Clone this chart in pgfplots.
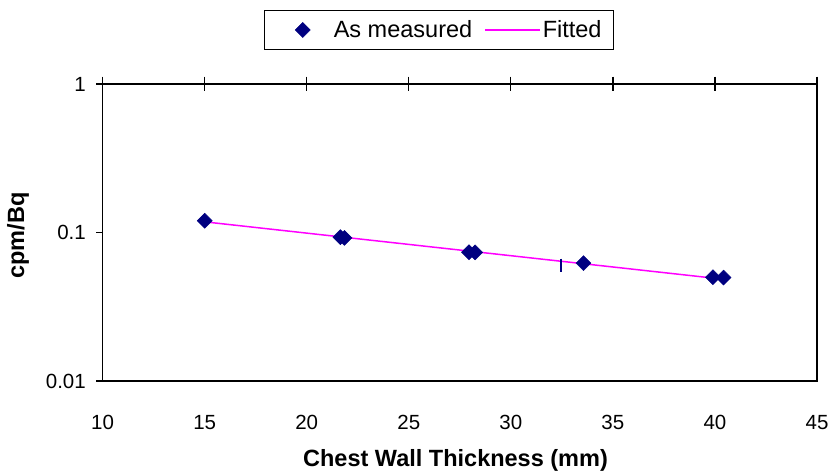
\documentclass[border=0pt]{standalone}
\usepackage{fontspec}
\setmainfont{Liberation Sans}
\usepackage{pgfplots}
\pgfplotsset{compat=1.18}
\definecolor{navy}{HTML}{000080}
\definecolor{fitmag}{HTML}{FF00FF}
\pgfplotsset{
  diamlegend/.style={legend image code/.code={\path (-19.5pt,0pt) (36.5pt,0pt);\draw[##1] plot coordinates {(8pt,0pt)};}},
  linelegend/.style={legend image code/.code={\draw[##1] (0pt,0pt) -- (55pt,0pt);}},
}
\begin{document}
\begin{tikzpicture}
\useasboundingbox (-102.6pt,-94pt) rectangle (726.4pt,381pt);
\begin{axis}[
  at={(0pt,0pt)}, anchor=south west,
  scale only axis, width=714.4pt, height=297pt,
  xmin=10, xmax=45, ymode=log, ymin=0.01, ymax=1,
  xtick={10,15,20,25,30,35,40,45},
  xticklabels={10,15,20,25,30,35,40,45},
  ytick={0.01,0.1,1}, yticklabels={0.01,0.1,1},
  xminorticks=false, yminorticks=false,
  xtick pos=upper, xticklabel pos=lower, ytick pos=left,
  xtick align=center, ytick align=outside,
  xtick style={/pgfplots/major tick length=15pt, black, line width=1.3pt},
  ytick style={/pgfplots/major tick length=6.5pt, black, line width=1.3pt},
  axis line style={black, line width=1.3pt},
  xticklabel style={font=\fontsize{20.5}{24}\selectfont, yshift=-29pt},
  yticklabel style={font=\fontsize{20.5}{24}\selectfont, xshift=-9pt},
  xlabel={Chest Wall Thickness (mm)},
  ylabel={cpm/Bq},
  every axis x label/.style={at={(axis description cs:0.494,-0.269)}, anchor=center, font=\fontsize{23.5}{28}\selectfont\bfseries},
  every axis y label/.style={at={(axis description cs:-0.1184,0.49)}, anchor=center, rotate=90, font=\fontsize{23.5}{28}\selectfont\bfseries},
  legend columns=2,
  legend style={at={(axis description cs:0.471,1.182)}, anchor=center,
    draw=black, line width=1.2pt, font=\fontsize{23.5}{28}\selectfont,
    inner xsep=10pt, inner ysep=8.5pt,
    /tikz/every even column/.append style={column sep=10pt}},
  clip=false,
]
\addplot[only marks, mark=square*, mark size=5.3pt, color=navy,
  mark options={rotate=45, line width=0.5pt}, diamlegend]
  coordinates {
  (15.0,0.120)
  (21.65,0.093)
  (21.85,0.092)
  (27.95,0.0737)
  (28.25,0.0735)
  (33.56,0.0622)
  (39.90,0.0500)
  (40.42,0.0497)
  };
\addlegendentry{As measured}
\addplot[fitmag, line width=1.5pt, mark=none, linelegend]
  coordinates {(15.0,0.118) (40.4,0.0485)};
\addlegendentry{Fitted}
\addplot[only marks, mark=|, mark size=6.5pt, color=navy, line width=2pt, forget plot]
  coordinates {(32.47,0.0604)};
\end{axis}
\end{tikzpicture}
\end{document}
